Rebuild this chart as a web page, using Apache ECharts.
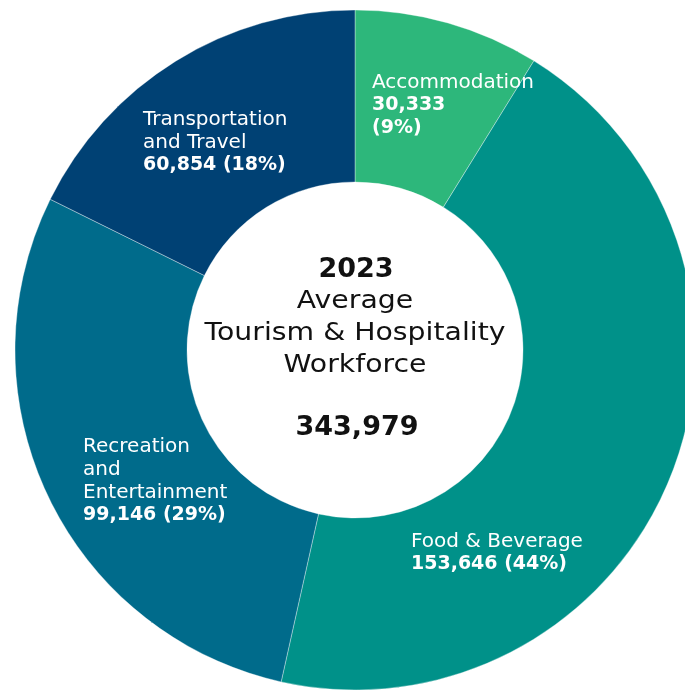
<!DOCTYPE html>
<html>
<head>
<meta charset="utf-8">
<title>Tourism & Hospitality Workforce 2023</title>
<script src="https://cdn.jsdelivr.net/npm/echarts@6/dist/echarts.min.js"></script>
<style>
  html, body { margin: 0; padding: 0; background: #fff; }
  #chart { width: 685px; height: 691px; }
</style>
</head>
<body>
<div id="chart"></div>
<script>
// data
const categories = ["Accommodation", "Food & Beverage", "Recreation and Entertainment", "Transportation and Travel"];
const labelNames = ["Accommodation", "Food & Beverage", "Recreation\nand\nEntertainment", "Transportation\nand Travel"];
const workers = [30333, 153646, 99146, 60854];
const year = "2023";
const centerTitle = "Average\nTourism & Hospitality\nWorkforce";

// look
const colors = ["#2db77b", "#009189", "#006b8b", "#004174"];
const labelPos = [[372, 71], [411, 530], [83, 435], [143, 108]];
const FONT = "'DejaVu Sans', sans-serif";

const total = workers.reduce((a, b) => a + b, 0);
const fmt = n => n.toLocaleString("en-US");

let myChart = echarts.init(document.getElementById("chart"));

myChart.setOption({
  animation: false,
  color: colors,
  graphic: [{
    type: "text",
    x: 356,
    y: 270,
    style: {
      text: year,
      align: "center",
      verticalAlign: "middle",
      fontFamily: FONT,
      fontSize: 27,
      fontWeight: "bold",
      fill: "#111"
    }
  }, {
    // the original font is wide, so stretch it a little
    type: "text",
    x: 355,
    y: 286,
    scaleX: 1.18,
    style: {
      text: centerTitle,
      align: "center",
      verticalAlign: "top",
      fontFamily: FONT,
      fontSize: 24,
      lineHeight: 32,
      fill: "#111"
    }
  }, {
    type: "text",
    x: 357,
    y: 428,
    style: {
      text: fmt(total),
      align: "center",
      verticalAlign: "middle",
      fontFamily: FONT,
      fontSize: 27,
      fontWeight: "bold",
      fill: "#111"
    }
  }],
  series: [{
    type: "pie",
    center: [355, 350],
    radius: [168, 340],
    startAngle: 90,
    clockwise: true,
    percentPrecision: 0,
    itemStyle: { borderColor: "rgba(255,255,255,0.35)", borderWidth: 1 },
    emphasis: { disabled: true },
    label: {
      show: true,
      position: "inside",
      color: "#fff",
      fontFamily: FONT,
      fontSize: 20,
      lineHeight: 23,
      align: "left",
      formatter: p => {
        const sep = p.dataIndex === 0 ? "\n" : " ";
        return "{n|" + labelNames[p.dataIndex].split("\n").join("}\n{n|") + "}\n{v|" + fmt(p.value) + sep + "(" + p.percent + "%)}";
      },
      rich: {
        n: { color: "#fff", fontFamily: FONT, fontSize: 20, lineHeight: 23 },
        v: { color: "#fff", fontFamily: FONT, fontSize: 19, fontWeight: "bold", lineHeight: 23 }
      }
    },
    labelLayout: p => ({
      x: labelPos[p.dataIndex][0],
      y: labelPos[p.dataIndex][1],
      align: "left",
      verticalAlign: "top"
    }),
    data: categories.map((c, i) => ({ name: c, value: workers[i] }))
  }]
});
</script>
</body>
</html>
